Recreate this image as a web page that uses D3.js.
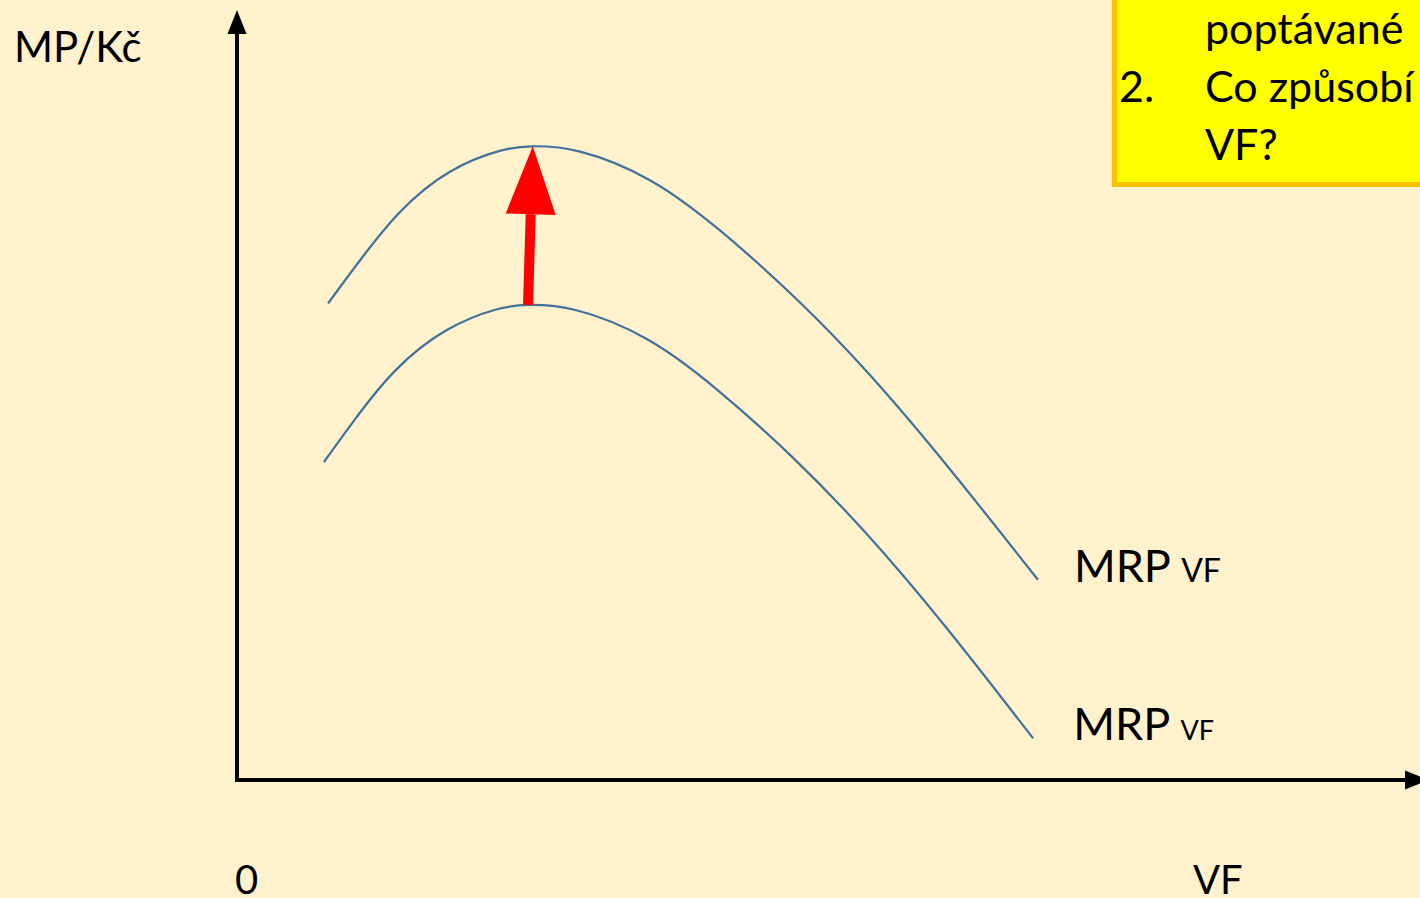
<!DOCTYPE html>
<html>
<head>
<meta charset="utf-8">
<script src="https://cdn.jsdelivr.net/npm/d3@7"></script>
<style>
  body { margin: 0; background: #FFF2CC; overflow: hidden; }
  svg { display: block; font-family: Lato, "Open Sans", sans-serif; }
</style>
</head>
<body>
<svg width="1420" height="898"></svg>
<script>
// curve values (VF units on x, MP/Kč units on y, both 0..100)
var upperX = [7.7, 10.4, 13.8, 18.0, 22.2, 25.0, 29.0, 34.9, 40.8, 47.2, 53.5, 60.3, 67.7];
var upperY = [61.9, 67.5, 73.8, 79.0, 81.7, 82.3, 81.6, 77.9, 71.4, 62.6, 52.6, 40.3, 26.0];
var lowerX = [7.35, 10.0, 13.4, 17.7, 21.9, 24.7, 28.7, 34.6, 40.5, 46.9, 53.2, 60.0, 67.3];
var lowerY = [41.3, 46.9, 53.2, 58.4, 61.1, 61.7, 61.0, 57.3, 50.8, 42.0, 32.0, 19.7, 5.4];
// shift arrow: from the lower peak to the upper peak
var shiftFrom = {x: 24.6, y: 61.7};
var shiftTo = {x: 25.0, y: 82.3};

var yLabel = 'MP/Kč';
var xLabel = 'VF';
var originLabel = '0';
var curveLabel = 'MRP';
var curveSub = 'VF';
var boxLines = [
  {num: '', text: 'poptávané'},
  {num: '2.', text: 'Co způsobí'},
  {num: '', text: 'VF?'}
];

var svg = d3.select('svg');
var x = d3.scaleLinear().domain([0, 100]).range([237, 1420]);
var y = d3.scaleLinear().domain([0, 100]).range([780, 10]);

var defs = svg.append('defs');
defs.append('marker')
  .attr('id', 'axhead')
  .attr('markerUnits', 'userSpaceOnUse')
  .attr('viewBox', '0 -10 24 20')
  .attr('markerWidth', 24).attr('markerHeight', 20)
  .attr('refX', 0).attr('refY', 0)
  .attr('orient', 'auto')
  .append('path').attr('d', 'M0,-9.5L24,0L0,9.5Z').attr('fill', '#000');

// axes
var axes = svg.append('g').attr('id', 'axes');
axes.append('line')
  .attr('x1', x(0)).attr('y1', y(0))
  .attr('x2', x(0)).attr('y2', y(100) + 24)
  .attr('stroke', '#000').attr('stroke-width', 4)
  .attr('marker-end', 'url(#axhead)');
axes.append('line')
  .attr('x1', x(0) - 2).attr('y1', y(0))
  .attr('x2', x(100) - 15).attr('y2', y(0))
  .attr('stroke', '#000').attr('stroke-width', 4)
  .attr('marker-end', 'url(#axhead)');

// MRP curves
var line = d3.line()
  .x(function(d) { return x(d[0]); })
  .y(function(d) { return y(d[1]); })
  .curve(d3.curveNatural);

var curves = [d3.zip(upperX, upperY), d3.zip(lowerX, lowerY)];
svg.append('g').attr('id', 'curves')
  .selectAll('path.mrp')
  .data(curves)
  .enter()
    .append('path')
    .classed('mrp', true)
    .attr('d', line)
    .attr('fill', 'none')
    .attr('stroke', '#41719C')
    .attr('stroke-width', 2.2);

// red shift arrow
var ax0 = x(shiftFrom.x), ay0 = y(shiftFrom.y);
var ax1 = x(shiftTo.x), ay1 = y(shiftTo.y);
var len = Math.hypot(ax1 - ax0, ay1 - ay0);
var ux = (ax1 - ax0) / len, uy = (ay1 - ay0) / len;
var headLen = 68, headHalf = 25;
var bx = ax1 - ux * headLen, by = ay1 - uy * headLen;
var arrow = svg.append('g').attr('id', 'shift');
arrow.append('line')
  .attr('x1', ax0).attr('y1', ay0)
  .attr('x2', bx).attr('y2', by)
  .attr('stroke', '#FF0000').attr('stroke-width', 10);
arrow.append('path')
  .attr('d', 'M' + (bx - uy * headHalf) + ',' + (by + ux * headHalf) +
    'L' + ax1 + ',' + ay1 +
    'L' + (bx + uy * headHalf) + ',' + (by - ux * headHalf) + 'Z')
  .attr('fill', '#FF0000');

// labels
var labels = svg.append('g').attr('id', 'labels').attr('fill', '#000');
labels.append('text').attr('x', 14).attr('y', 62).attr('font-size', 42).text(yLabel);
labels.append('text').attr('x', 235).attr('y', 894).attr('font-size', 40).text(originLabel);
labels.append('text').attr('x', 1193).attr('y', 894).attr('font-size', 40).text(xLabel);

var mrpLabels = [
  {end: [upperX[upperX.length - 1], upperY[upperY.length - 1]], dx: 36, sub: 32},
  {end: [lowerX[lowerX.length - 1], lowerY[lowerY.length - 1]], dx: 40, sub: 27}
];
mrpLabels.forEach(function(d) {
  var t = labels.append('text')
    .attr('x', x(d.end[0]) + d.dx)
    .attr('y', y(d.end[1]) + 2)
    .attr('font-size', 45);
  t.append('tspan').text(curveLabel + ' ');
  t.append('tspan').attr('font-size', d.sub).text(curveSub);
});

// yellow question box in the corner
var box = svg.append('g').attr('id', 'box');
box.append('rect')
  .attr('x', 1114.5).attr('y', -20)
  .attr('width', 400).attr('height', 204.5)
  .attr('fill', '#FFFF00')
  .attr('stroke', '#FFC000').attr('stroke-width', 5);
box.selectAll('text.num')
  .data(boxLines)
  .enter()
    .append('text')
    .attr('x', 1119)
    .attr('y', function(d, i) { return 44 + i * 58; })
    .attr('font-size', 43)
    .text(function(d) { return d.num; });
box.selectAll('text.line')
  .data(boxLines)
  .enter()
    .append('text')
    .attr('x', 1205)
    .attr('y', function(d, i) { return 44 + i * 58; })
    .attr('font-size', 43)
    .text(function(d) { return d.text; });
</script>
</body>
</html>
